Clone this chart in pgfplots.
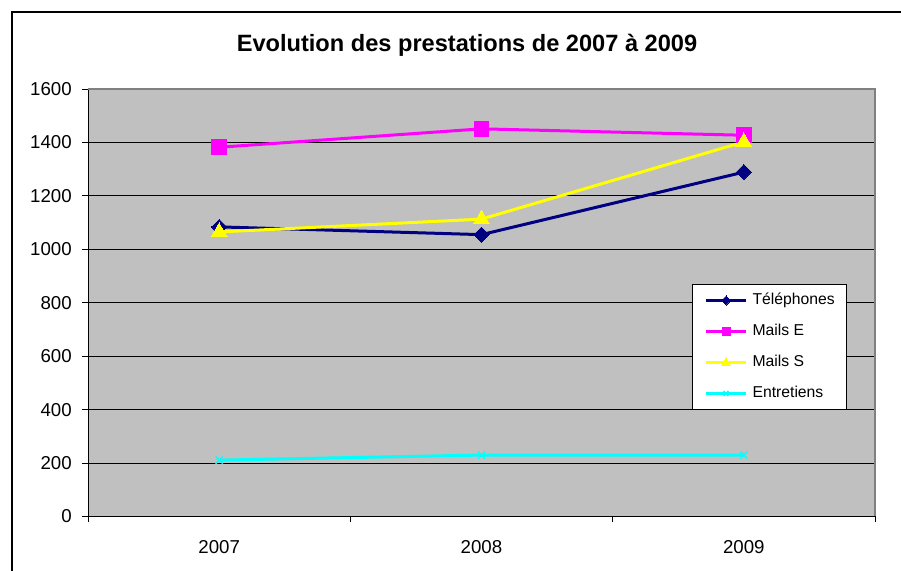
\documentclass[border=0pt]{standalone}
\usepackage{pgfplots}
\pgfplotsset{compat=1.18}
\usepackage{fontspec}
\setmainfont{Liberation Sans}
\definecolor{plotgrey}{HTML}{C0C0C0}
\definecolor{navyc}{HTML}{000080}
\definecolor{magc}{HTML}{FF00FF}
\definecolor{yelc}{HTML}{FFFF00}
\definecolor{cyanc}{HTML}{00FFFF}
\begin{document}
\begin{tikzpicture}
\useasboundingbox (0,0) rectangle (675.75pt,428.25pt);
\draw[line width=1.5pt,black] (9pt,-5pt) -- (9pt,419.25pt) -- (690pt,419.25pt);
\node[font=\bfseries\fontsize{17.7}{20}\selectfont] at (350.25pt,394.5pt) {Evolution des prestations de 2007 à 2009};
\begin{axis}[
  at={(66pt,40.875pt)}, anchor=south west,
  scale only axis, width=590.25pt, height=320.6pt,
  xmin=0.5, xmax=3.5, ymin=0, ymax=1600,
  xtick={0.5,1.5,2.5,3.5}, xticklabels={2007,2008,2009,},
  x tick label as interval,
  ytick={0,200,...,1600},
  axis lines*=left,
  axis line style={black, line width=0.75pt},
  tick align=outside, major tick length=4.5pt,
  tick style={black, line width=0.75pt},
  ymajorgrids, major grid style={black, line width=0.75pt},
  axis background/.style={fill=plotgrey},
  /pgf/number format/assume math mode=true,
  /pgf/number format/1000 sep={},
  ticklabel style={font=\fontsize{14}{16}\selectfont},
  yticklabel style={anchor=east, inner sep=0pt, xshift=-7.5pt},
  xticklabel style={anchor=north, inner sep=0pt, yshift=-13.5pt},
  legend style={at={(0.7675,0.5439)}, anchor=north west, draw=black, line width=0.75pt, fill=white,
    font=\fontsize{11.8}{14}\selectfont, inner xsep=9pt, inner ysep=6.5pt, row sep=12.25pt,
    nodes={inner sep=0pt, text height=8.5pt, text depth=2.5pt, anchor=west},
    /tikz/column 1/.style={column sep=3.75pt}},
  legend cell align=left,
  legend image code/.code={\draw[mark repeat=2,mark phase=2,#1] plot coordinates {(0pt,0pt) (15pt,0pt) (30pt,0pt)};},
  clip=false,
]
\addplot[color=navyc, line width=2.25pt, mark=square*, mark options={rotate=45, solid, fill=navyc, line width=0pt}, mark size=4pt,
  legend image post style={mark size=2.4pt}]
  coordinates {(1,1084) (2,1055) (3,1289)};
\addlegendentry{Téléphones}
\addplot[color=magc, line width=2.25pt, mark=square*, mark options={solid, fill=magc, line width=0pt}, mark size=5.6pt,
  legend image post style={mark size=3pt}]
  coordinates {(1,1382) (2,1451) (3,1427)};
\addlegendentry{Mails E}
\addplot[color=yelc, line width=2.25pt, mark=triangle*, mark options={solid, fill=yelc, line width=0pt}, mark size=6.8pt,
  legend image post style={mark size=3.8pt}]
  coordinates {(1,1065) (2,1113) (3,1402)};
\addlegendentry{Mails S}
\addplot[color=cyanc, line width=2.25pt, mark=x, mark options={solid, line width=1.1pt}, mark size=3.75pt,
  legend image post style={mark size=2.6pt}]
  coordinates {(1,211) (2,230) (3,230)};
\addlegendentry{Entretiens}
\draw[color=gray, line width=1pt] (rel axis cs:0,1) -- (rel axis cs:1,1) -- (rel axis cs:1,0);
\end{axis}
\end{tikzpicture}
\end{document}
